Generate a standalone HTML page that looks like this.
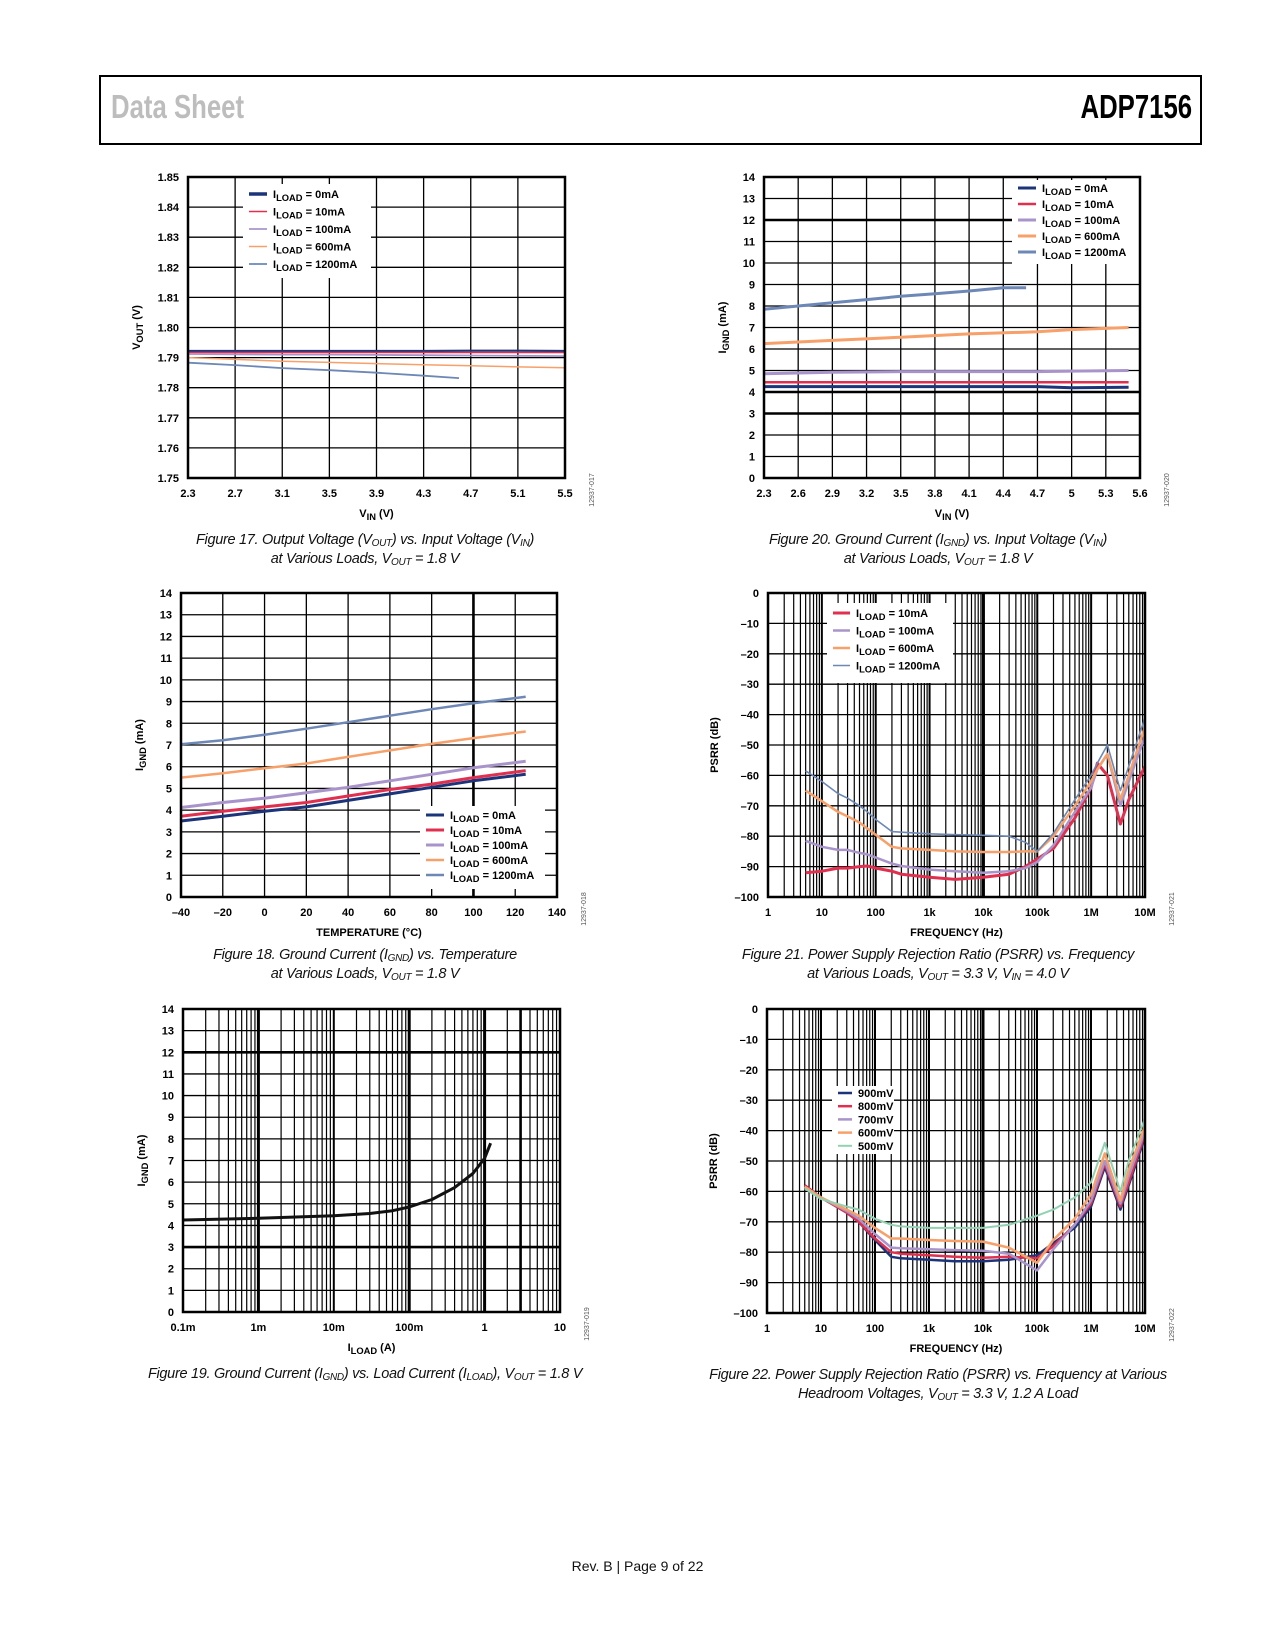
<!DOCTYPE html>
<html><head><meta charset="utf-8"><style>
body{margin:0;background:#fff;}
#page{position:relative;width:1275px;height:1650px;overflow:hidden;font-family:"Liberation Sans",sans-serif;}
.hdr{position:absolute;left:99px;top:75px;width:1099px;height:66px;border:2px solid #000;border-left-width:2px;}
.cap{position:absolute;font-family:"Liberation Sans",sans-serif;font-style:italic;font-size:14.5px;text-align:center;color:#111;line-height:19px;letter-spacing:-0.3px}
.cap sub{font-size:10px;vertical-align:-2px;line-height:0}
</style></head><body>
<div id="page">
<div class="hdr">
 <div style="position:absolute;left:10px;top:11px;font-size:33px;font-weight:bold;color:#bdbdbd;transform:scaleX(0.78);transform-origin:left">Data Sheet</div>
 <div style="position:absolute;right:8px;top:11px;font-size:33px;font-weight:bold;color:#000;transform:scaleX(0.78);transform-origin:right">ADP7156</div>
</div>
<svg id="svg" width="1275" height="1650" style="position:absolute;left:0;top:0"></svg>
<div class="cap" style="left:115px;top:531px;width:500px">Figure 17. Output Voltage (V<sub>OUT</sub>) vs. Input Voltage (V<sub>IN</sub>)<br>at Various Loads, V<sub>OUT</sub> = 1.8 V</div>
<div class="cap" style="left:688px;top:531px;width:500px">Figure 20. Ground Current (I<sub>GND</sub>) vs. Input Voltage (V<sub>IN</sub>)<br>at Various Loads, V<sub>OUT</sub> = 1.8 V</div>
<div class="cap" style="left:115px;top:946px;width:500px">Figure 18. Ground Current (I<sub>GND</sub>) vs. Temperature<br>at Various Loads, V<sub>OUT</sub> = 1.8 V</div>
<div class="cap" style="left:688px;top:946px;width:500px">Figure 21. Power Supply Rejection Ratio (PSRR) vs. Frequency<br>at Various Loads, V<sub>OUT</sub> = 3.3 V, V<sub>IN</sub> = 4.0 V</div>
<div class="cap" style="left:95px;top:1365px;width:540px">Figure 19. Ground Current (I<sub>GND</sub>) vs. Load Current (I<sub>LOAD</sub>), V<sub>OUT</sub> = 1.8 V</div>
<div class="cap" style="left:668px;top:1366px;width:540px">Figure 22. Power Supply Rejection Ratio (PSRR) vs. Frequency at Various<br>Headroom Voltages, V<sub>OUT</sub> = 3.3 V, 1.2 A Load</div>
<div style="position:absolute;left:0;width:1275px;top:1558px;text-align:center;font-size:14px;color:#111">Rev. B | Page 9 of 22</div>
</div>
<script>
// ---------- colors ----------
var C0='#1c3479',C10='#e1304f',C100='#a894cb',C600='#f7a06a',C1200='#6d88b6',C500='#92d2b2';
// ---------- Figure 17 data ----------
var f17X=[2.3,2.7,3.1,3.5,3.9,4.3,4.7,5.1,5.5];
var f17Y0=[1.7922,1.7922,1.7922,1.7922,1.7922,1.7922,1.7923,1.7923,1.7922];
var f17Y10=[1.7917,1.7917,1.7917,1.7917,1.7917,1.7917,1.7917,1.7917,1.7917];
var f17Y100=[1.7912,1.7911,1.7910,1.7910,1.7909,1.7908,1.7907,1.7906,1.7905];
var f17Y600=[1.7900,1.7894,1.7888,1.7884,1.7880,1.7876,1.7873,1.7869,1.7866];
var f17X1200=[2.3,2.7,3.1,3.5,3.9,4.3,4.6];
var f17Y1200=[1.7883,1.7875,1.7865,1.7858,1.7850,1.7840,1.7832];
var f17XT=[2.3,2.7,3.1,3.5,3.9,4.3,4.7,5.1,5.5];
var f17YT=[1.75,1.76,1.77,1.78,1.79,1.80,1.81,1.82,1.83,1.84,1.85];
// ---------- Figure 20 data ----------
var f20X=[2.3,2.9,3.5,4.1,4.7,5.0,5.5];
var f20Y0=[4.25,4.25,4.25,4.25,4.25,4.2,4.22];
var f20Y10=[4.45,4.45,4.45,4.45,4.45,4.45,4.45];
var f20Y100=[4.85,4.92,4.95,4.95,4.95,4.97,5.0];
var f20Y600=[6.25,6.4,6.55,6.7,6.8,6.9,7.0];
var f20X1200=[2.3,2.6,2.9,3.2,3.5,3.8,4.1,4.4,4.6];
var f20Y1200=[7.85,8.0,8.15,8.3,8.45,8.57,8.7,8.85,8.85];
var f20XT=[2.3,2.6,2.9,3.2,3.5,3.8,4.1,4.4,4.7,5,5.3,5.6];
var f20YT=[0,1,2,3,4,5,6,7,8,9,10,11,12,13,14];
// ---------- Figure 18 data ----------
var f18X=[-40,-20,0,20,40,60,80,100,125];
var f18Y0=[3.5,3.72,3.95,4.15,4.45,4.75,5.05,5.35,5.65];
var f18Y10=[3.72,3.95,4.15,4.35,4.65,4.95,5.2,5.5,5.82];
var f18Y100=[4.12,4.35,4.55,4.8,5.05,5.35,5.65,5.95,6.25];
var f18Y600=[5.5,5.7,5.93,6.15,6.45,6.75,7.05,7.32,7.62];
var f18Y1200=[7.03,7.22,7.47,7.75,8.05,8.35,8.65,8.92,9.22];
var f18XT=[-40,-20,0,20,40,60,80,100,120,140];
var f18YT=[0,1,2,3,4,5,6,7,8,9,10,11,12,13,14];
// ---------- Figure 19 data ----------
var f19X=[0.0001,0.001,0.01,0.03,0.06,0.1,0.2,0.4,0.7,1.0,1.2];
var f19Y=[4.25,4.33,4.45,4.55,4.68,4.85,5.2,5.75,6.4,7.1,7.8];
var f19XT=[0.0001,0.001,0.01,0.1,1,10];
var f19XL=['0.1m','1m','10m','100m','1','10'];
var f19YT=[0,1,2,3,4,5,6,7,8,9,10,11,12,13,14];
// ---------- Figure 21 data ----------
var f21F=[5,10,20,30,50,70,100,200,300,1e3,3e3,1e4,3e4,6e4,1e5,2e5,5e5,1e6,1.3e6,2e6,3.5e6,5e6,1e7];
var f21Y10=[-92,-91.5,-90.5,-90.5,-90,-89.8,-90.5,-91.5,-92.5,-93.5,-94.2,-93.5,-92.5,-90,-87.5,-84,-74,-64,-56,-60,-76,-68,-57];
var f21Y100=[-81.5,-83.5,-84.5,-84.5,-85.5,-86,-87,-89,-89.8,-91,-91.5,-92,-91.5,-90.5,-88.5,-83,-72,-64,-58,-53,-70,-62,-47];
var f21Y600=[-65,-68.5,-72,-73.5,-75.5,-77.5,-79.5,-83.5,-84,-84.5,-85,-85.2,-85.2,-85,-85,-80,-70,-62,-58,-53,-68,-60,-44];
var f21Y1200=[-58.5,-62,-66,-67.5,-70,-72,-74.5,-78.5,-78.7,-79.2,-79.5,-79.7,-80,-82,-85,-79,-68,-60,-56,-50,-65,-57,-41];
var fXT=[1,10,100,1e3,1e4,1e5,1e6,1e7];
var fXL=['1','10','100','1k','10k','100k','1M','10M'];
var psYT=[-100,-90,-80,-70,-60,-50,-40,-30,-20,-10,0];
var psYL=['\u2013100','\u201390','\u201380','\u201370','\u201360','\u201350','\u201340','\u201330','\u201320','\u201310','0'];
// ---------- Figure 22 data ----------
var f22F=[5,10,30,50,100,200,300,1e3,3e3,1e4,3e4,1e5,2e5,5e5,1e6,1.8e6,3.5e6,5e6,1e7];
var f22Y900=[-58,-62,-67,-70,-76,-81.5,-82,-82.5,-83,-83,-82.5,-81,-77,-72,-65,-52,-66,-58,-42];
var f22Y800=[-58,-62,-67,-70,-75.5,-80,-80.5,-81,-81.5,-81.8,-81.5,-82,-78,-71,-64,-51,-65,-57,-41];
var f22Y700=[-58.5,-62,-66.5,-69,-74,-78.5,-78.7,-79,-79.3,-79.5,-80.5,-86,-79,-71,-63,-50,-64,-55,-40];
var f22Y600=[-58.5,-62,-66,-68,-72,-75.5,-75.5,-76,-76.3,-76.5,-78.5,-83.5,-76,-69,-61,-47.5,-63,-53,-38.5];
var f22Y500=[-59,-62.5,-65,-66,-69,-71,-71.5,-72,-72,-72,-71,-68,-66,-62,-57,-44,-60,-50,-36];

var NS='http://www.w3.org/2000/svg';
var svg=document.getElementById('svg');
function mk(tag,a,parent){var e=document.createElementNS(NS,tag);for(var k in a)e.setAttribute(k,a[k]);(parent||svg).appendChild(e);return e;}
function richText(parent,x,y,str,size,anchor,rot){
  var t=mk('text',{x:x,y:y,'font-size':size,'font-weight':'bold','text-anchor':anchor||'start','font-family':'Liberation Sans, sans-serif'},parent);
  if(rot)t.setAttribute('transform','rotate(-90 '+x+' '+y+')');
  var parts=str.split('|');
  for(var i=0;i<parts.length;i++){if(!parts[i])continue;var s=mk('tspan',{},t);s.textContent=parts[i];
    if(i%2==1){s.setAttribute('font-size',size*0.85);s.setAttribute('dy',3);}else if(i>0){s.setAttribute('dy',-3);}}
  return t;
}
function chart(c){
  var g=mk('g',{});
  
  
  var L=c.L,R=c.R,T=c.T,B=c.B;
  function sx(v){if(c.xlog){return L+(Math.log10(v)-Math.log10(c.xmin))/(Math.log10(c.xmax)-Math.log10(c.xmin))*(R-L);}return L+(v-c.xmin)/(c.xmax-c.xmin)*(R-L);}
  function sy(v){return B-(v-c.ymin)/(c.ymax-c.ymin)*(B-T);}
  var grid=mk('g',{stroke:'#000',fill:'none'},g);
  
  
  c.yt.forEach(function(v){var w=(c.heavyY||[]).indexOf(v)>=0?2.6:1.3;mk('line',{x1:L,x2:R,y1:sy(v),y2:sy(v),'stroke-width':w},grid);});
  if(c.xlog){
    for(var d=Math.log10(c.xmin);d<Math.log10(c.xmax);d++){for(var m=1;m<10;m++){var v=Math.pow(10,d)*m;var xx=sx(v);var w=m==1?((c.heavyX||[]).indexOf(v)>=0?3:2):1.2;mk('line',{x1:xx,x2:xx,y1:T,y2:B,'stroke-width':w},grid);}}
  } else {
    c.xt.forEach(function(v){var w=(c.heavyX||[]).indexOf(v)>=0?2.6:1.3;mk('line',{x1:sx(v),x2:sx(v),y1:T,y2:B,'stroke-width':w},grid);});
  }
  (c.extraX||[]).forEach(function(v){mk('line',{x1:sx(v),x2:sx(v),y1:T,y2:B,'stroke-width':2.6},grid);});
  if(c.leg){var lb=mk('rect',{x:c.leg.x,y:c.leg.y,width:c.leg.w,height:c.leg.h,fill:'#fff'},g);
    
    }
  c.series.forEach(function(s){
    var d='';for(var i=0;i<s.x.length;i++){d+=(i?'L':'M')+sx(s.x[i]).toFixed(1)+','+sy(s.y[i]).toFixed(1);}
    var p=mk('path',{d:d,fill:'none',stroke:s.col,'stroke-width':s.w,'stroke-linejoin':'round'},g);
    
    
  });
  var fr=mk('rect',{x:L,y:T,width:R-L,height:B-T,fill:'none',stroke:'#000','stroke-width':2.5},g);
  
  
  if(c.leg){c.series.slice().forEach(function(s,i){if(s.nolegend)return;var ly=c.leg.y+c.leg.pad+i*c.leg.dy;
    var lg=mk('g',{},g);
    
    
    mk('line',{x1:c.leg.x+6,x2:c.leg.x+6+c.leg.sw,y1:ly,y2:ly,stroke:s.col,'stroke-width':s.lw||s.w},lg);
    richText(lg,c.leg.x+12+c.leg.sw,ly+4,s.label,11,'start');});}
  c.yt.forEach(function(v,i){var t=mk('text',{x:L-9,y:sy(v)+4,'font-size':11,'font-weight':'bold','text-anchor':'end'},g);t.textContent=c.yl?c.yl[i]:String(v);
    
    });
  c.xt.forEach(function(v,i){var t=mk('text',{x:sx(v),y:B+19,'font-size':11,'font-weight':'bold','text-anchor':'middle'},g);t.textContent=c.xl?c.xl[i]:String(v);
    
    });
  var xt=richText(g,(L+R)/2,B+39,c.xtitle,11,'middle');
  
  
  var yt=richText(g,L-c.yoff,(T+B)/2,c.ytitle,11,'middle',true);
  
  
  var cx=R+29,cy=B+12;
  var code=mk('text',{x:cx,y:cy,'font-size':7,fill:'#555','text-anchor':'middle',transform:'rotate(-90 '+cx+' '+cy+')'},g);
  code.textContent=c.code;
  
  
}
var LD='I|LOAD| = ';
chart({name:'figure-17-chart',L:188,R:565,T:177,B:478,xmin:2.3,xmax:5.5,ymin:1.75,ymax:1.85,xt:f17XT,yt:f17YT,yl:f17YT.map(function(v){return v.toFixed(2)}),
  xtitle:'V|IN| (V)',ytitle:'V|OUT| (V)',yoff:48,code:'12937-017',
  leg:{x:243,y:184,w:128,h:94,pad:10,dy:17.5,sw:18},
  series:[{key:'0ma',x:f17X,y:f17Y0,col:C0,w:2.2,lw:3.5,label:LD+'0mA'},{key:'10ma',x:f17X,y:f17Y10,col:C10,w:1.5,label:LD+'10mA'},
  {key:'100ma',x:f17X,y:f17Y100,col:C100,w:1.8,label:LD+'100mA'},{key:'600ma',x:f17X,y:f17Y600,col:C600,w:1.5,label:LD+'600mA'},
  {key:'1200ma',x:f17X1200,y:f17Y1200,col:C1200,w:1.8,label:LD+'1200mA'}]});
chart({name:'figure-20-chart',L:764,R:1140,T:177,B:478,xmin:2.3,xmax:5.6,ymin:0,ymax:14,xt:f20XT,yt:f20YT,heavyY:[12,4,3],
  xtitle:'V|IN| (V)',ytitle:'I|GND| (mA)',yoff:38,code:'12937-020',
  leg:{x:1012,y:180,w:127,h:84,pad:8,dy:16,sw:18},
  series:[{key:'0ma',x:f20X,y:f20Y0,col:C0,w:3,label:LD+'0mA'},{key:'10ma',x:f20X,y:f20Y10,col:C10,w:2.5,label:LD+'10mA'},
  {key:'100ma',x:f20X,y:f20Y100,col:C100,w:3,label:LD+'100mA'},{key:'600ma',x:f20X,y:f20Y600,col:C600,w:3,label:LD+'600mA'},
  {key:'1200ma',x:f20X1200,y:f20Y1200,col:C1200,w:3,label:LD+'1200mA'}]});
chart({name:'figure-18-chart',L:181,R:557,T:593,B:897,xmin:-40,xmax:140,ymin:0,ymax:14,xt:f18XT,yt:f18YT,heavyX:[100],
  xl:f18XT.map(function(v){return v<0?'\u2013'+(-v):String(v)}),
  xtitle:'TEMPERATURE (°C)',ytitle:'I|GND| (mA)',yoff:38,code:'12937-018',
  leg:{x:420,y:806,w:125,h:83,pad:9,dy:15,sw:18},
  series:[{key:'0ma',x:f18X,y:f18Y0,col:C0,w:3,label:LD+'0mA'},{key:'10ma',x:f18X,y:f18Y10,col:C10,w:3,label:LD+'10mA'},
  {key:'100ma',x:f18X,y:f18Y100,col:C100,w:3,label:LD+'100mA'},{key:'600ma',x:f18X,y:f18Y600,col:C600,w:2.5,label:LD+'600mA'},
  {key:'1200ma',x:f18X,y:f18Y1200,col:C1200,w:2.5,label:LD+'1200mA'}]});
chart({name:'figure-19-chart',L:183,R:560,T:1009,B:1312,xlog:true,xmin:1e-4,xmax:10,ymin:0,ymax:14,xt:f19XT,xl:f19XL,yt:f19YT,heavyY:[12,3],heavyX:[0.001,0.1,1],extraX:[3],
  xtitle:'I|LOAD| (A)',ytitle:'I|GND| (mA)',yoff:38,code:'12937-019',
  series:[{key:'ignd',x:f19X,y:f19Y,col:'#111',w:3}]});
chart({name:'figure-21-chart',L:768,R:1145,T:593,B:897,xlog:true,xmin:1,xmax:1e7,ymin:-100,ymax:0,xt:fXT,xl:fXL,yt:psYT,yl:psYL,heavyX:[1e4],
  xtitle:'FREQUENCY (Hz)',ytitle:'PSRR (dB)',yoff:50,code:'12937-021',
  leg:{x:827,y:603,w:126,h:80,pad:10,dy:17.5,sw:17},
  series:[{key:'10ma',x:f21F,y:f21Y10,col:C10,w:3,label:LD+'10mA'},{key:'100ma',x:f21F,y:f21Y100,col:C100,w:2.5,label:LD+'100mA'},
  {key:'600ma',x:f21F,y:f21Y600,col:C600,w:2.5,label:LD+'600mA'},{key:'1200ma',x:f21F,y:f21Y1200,col:C1200,w:1.6,label:LD+'1200mA'}]});
chart({name:'figure-22-chart',L:767,R:1145,T:1009,B:1313,xlog:true,xmin:1,xmax:1e7,ymin:-100,ymax:0,xt:fXT,xl:fXL,yt:psYT,yl:psYL,heavyX:[1e4],
  xtitle:'FREQUENCY (Hz)',ytitle:'PSRR (dB)',yoff:50,code:'12937-022',
  leg:{x:832,y:1086,w:62,h:68,pad:7,dy:13.2,sw:14},
  series:[{key:'900mv',x:f22F,y:f22Y900,col:C0,w:2.5,label:'900mV'},{key:'800mv',x:f22F,y:f22Y800,col:C10,w:2.5,label:'800mV'},
  {key:'700mv',x:f22F,y:f22Y700,col:C100,w:2.5,label:'700mV'},{key:'600mv',x:f22F,y:f22Y600,col:C600,w:2.5,label:'600mV'},
  {key:'500mv',x:f22F,y:f22Y500,col:C500,w:2,label:'500mV'}]});
</script>
</body></html>
